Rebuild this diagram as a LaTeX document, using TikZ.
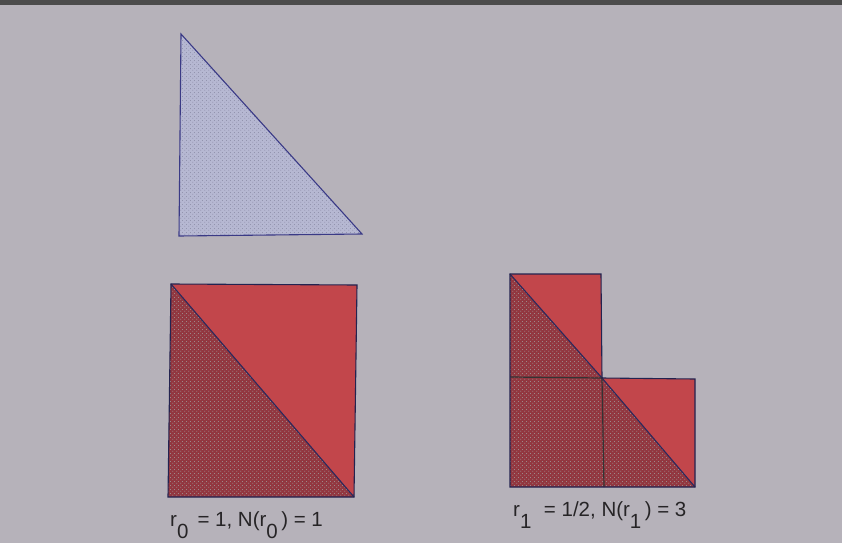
\documentclass[tikz,border=0pt]{standalone}
\usepackage{fontspec}
\setmainfont{Liberation Sans}
\usetikzlibrary{patterns}
\makeatletter
\pgfdeclarepatternformonly[\tikz@pattern@color]{halftone}{\pgfpointorigin}{\pgfpoint{4pt}{4pt}}{\pgfpoint{4pt}{4pt}}{%
  \pgfsetcolor{\tikz@pattern@color}%
  \pgfpathcircle{\pgfpoint{1pt}{1pt}}{0.6pt}%
  \pgfpathcircle{\pgfpoint{3pt}{3pt}}{0.6pt}%
  \pgfusepath{fill}}
\makeatother
\definecolor{paper}{HTML}{B6B2BA}
\definecolor{tri}{HTML}{B6B8D2}
\definecolor{dotc}{HTML}{505078}
\definecolor{edge}{HTML}{3A3A86}
\definecolor{brightred}{HTML}{C2464B}
\definecolor{darkred}{HTML}{923740}
\definecolor{ink}{HTML}{262426}
\newcommand{\sub}[1]{\raisebox{-0.6em}{#1}}
\begin{document}
\begin{tikzpicture}[x=1pt,y=-1pt,
  outline/.style={draw=edge,line width=1.1pt,line join=miter},
  lite/.style={fill=brightred},
  dark/.style={fill=darkred},
  dotted fill/.style={pattern=halftone,pattern color=#1},
  lbl/.style={font=\fontsize{20.5}{20.5}\selectfont,text=ink,inner sep=0pt}]
\useasboundingbox (0,0) rectangle (842,543);
\fill[paper] (0,0) rectangle (842,543);
\fill[black!70] (0,0) rectangle (842,5);
% triangle
\coordinate (t1) at (181,34);
\coordinate (t2) at (179,236);
\coordinate (t3) at (362,234);
\fill[tri] (t1)--(t2)--(t3)--cycle;
\fill[dotted fill=dotc] (t1)--(t2)--(t3)--cycle;
\draw[outline] (t1)--(t2)--(t3)--cycle;
% big square
\coordinate (a1) at (171,284);
\coordinate (a2) at (357,285);
\coordinate (a3) at (354,497);
\coordinate (a4) at (168,497);
\fill[lite] (a1)--(a2)--(a3)--cycle;
\fill[dark] (a1)--(a3)--(a4)--cycle;
\fill[dotted fill=black!60] (a1)--(a3)--(a4)--cycle;
\draw[edge!70!black,line width=1.1pt] (a1)--(a3);
\draw[outline,draw=edge!60!black] (a1)--(a2)--(a3)--(a4)--cycle;
% L shape
\coordinate (b1) at (510,274);
\coordinate (b2) at (601,274);
\coordinate (b3) at (602,378);
\coordinate (b4) at (695,379);
\coordinate (b5) at (695,487);
\coordinate (b6) at (604,487);
\coordinate (b7) at (510,487);
\coordinate (b8) at (510,377);
\fill[lite] (b1)--(b2)--(b3)--cycle;
\fill[dark] (b1)--(b3)--(b8)--cycle;
\fill[dark] (b8)--(b3)--(b6)--(b7)--cycle;
\fill[lite] (b3)--(b4)--(b5)--cycle;
\fill[dark] (b3)--(b5)--(b6)--cycle;
\fill[dotted fill=black!60] (b1)--(b3)--(b5)--(b7)--cycle;
\draw[edge!70!black,line width=1.1pt] (b1)--(b3) (b3)--(b5);
\draw[black!80,line width=1.2pt] (b8)--(b3)--(b6);
\draw[outline,draw=edge!60!black] (b1)--(b2)--(b3)--(b4)--(b5)--(b7)--cycle;
% labels
\node[lbl,anchor=base west] (l0) at (170,526) {r\sub{0}\, = 1, N(r\sub{0}\,) = 1};
\node[lbl,anchor=base west] (l1) at (513,516) {r\sub{1}\,\, = 1/2, N(r\sub{1}\,) = 3};
\end{tikzpicture}
\end{document}
